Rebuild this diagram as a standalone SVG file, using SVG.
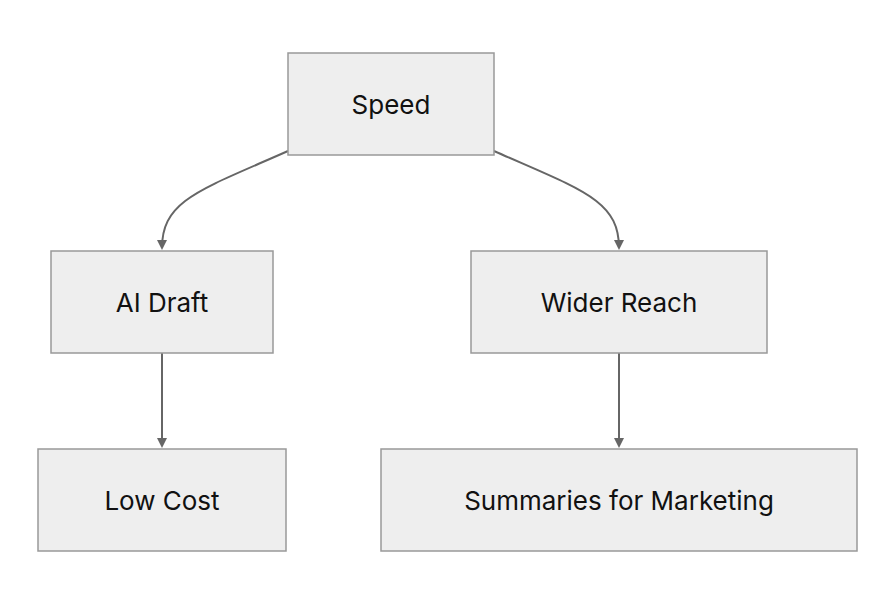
<svg xmlns="http://www.w3.org/2000/svg" width="894" height="604" viewBox="0 0 894 604">
<style>
.n rect{fill:#eeeeee;stroke:#999999;stroke-width:1.5}
.n text{font-family:Inter,"Liberation Sans",sans-serif;font-size:26px;fill:#111;text-anchor:middle;dominant-baseline:central}
.c path{fill:none;stroke:#666;stroke-width:2}
</style>
<defs><marker id="a" markerWidth="10" markerHeight="10" refX="8" refY="5" orient="auto" markerUnits="userSpaceOnUse"><path d="M0,0L10,5L0,10z" fill="#666"/></marker></defs>
<rect width="894" height="604" fill="#fff"/>
<g class="c">
<path d="M288,151 C200,190 162,200 162,248" marker-end="url(#a)"/>
<path d="M494,151 C582,190 619,200 619,248" marker-end="url(#a)"/>
<path d="M162,353 L162,446" marker-end="url(#a)"/>
<path d="M619,353 L619,446" marker-end="url(#a)"/>
</g>
<g id="speed" class="n"><rect x="288" y="53" width="206" height="102"/><text x="391" y="104">Speed</text></g>
<g id="ai" class="n"><rect x="51" y="251" width="222" height="102"/><text x="162" y="302">AI Draft</text></g>
<g id="reach" class="n"><rect x="471" y="251" width="296" height="102"/><text x="619" y="302">Wider Reach</text></g>
<g id="cost" class="n"><rect x="38" y="449" width="248" height="102"/><text x="162" y="500">Low Cost</text></g>
<g id="sum" class="n"><rect x="381" y="449" width="476" height="102"/><text x="619" y="500">Summaries for Marketing</text></g>
</svg>
